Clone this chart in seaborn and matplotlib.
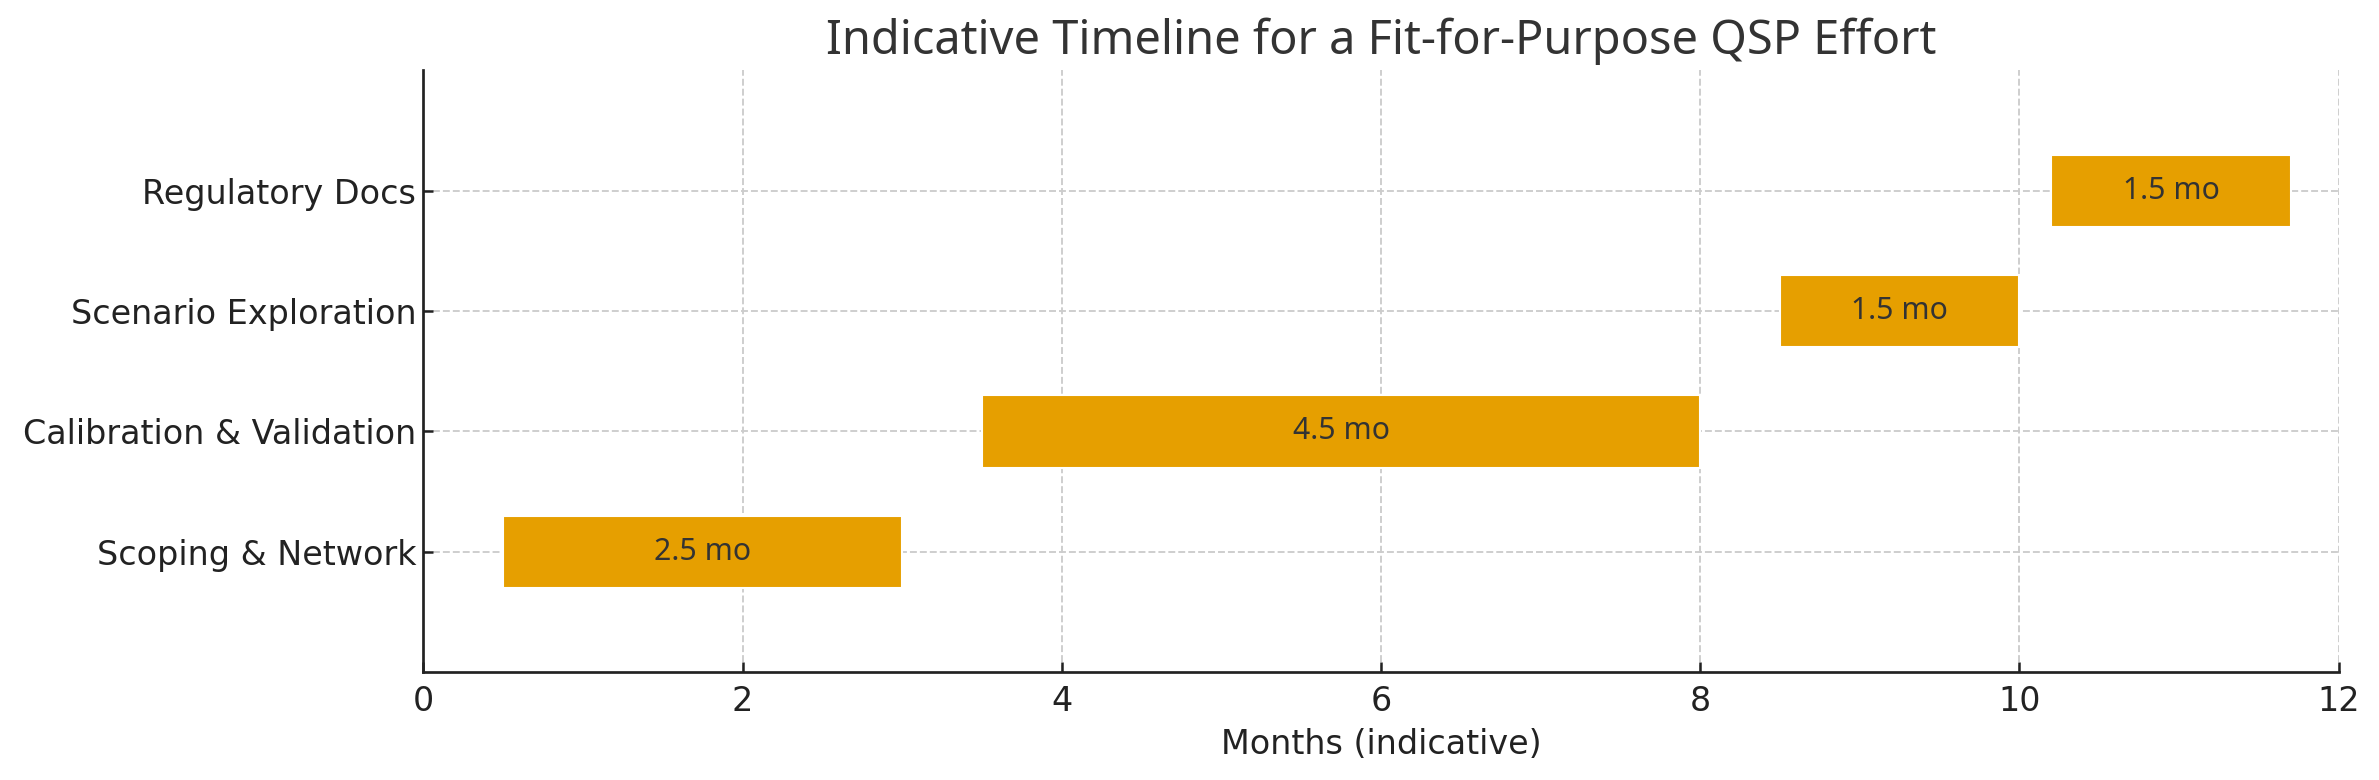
import numpy as np
import matplotlib.pyplot as plt
import seaborn as sns

tasks = ['Scoping & Network', 'Calibration & Validation', 'Scenario Exploration', 'Regulatory Docs']
starts = [0.5, 3.5, 8.5, 10.2]
durations = [2.5, 4.5, 1.5, 1.5]

sns.set_theme(style='whitegrid')
plt.rcParams['font.family'] = ['DejaVu Sans']

fig, ax = plt.subplots(figsize=(2379 / 150, 780 / 150), dpi=150)
fig.subplots_adjust(left=0.178, right=0.983, top=0.910, bottom=0.138)

pos = np.arange(len(tasks))
ax.barh(pos, durations, left=starts, height=0.6, color='#E69F00', zorder=3)

for p, s, d in zip(pos, starts, durations):
    ax.text(s + d / 2, p, f'{d} mo', ha='center', va='center', fontsize=14.5,
            color='#333333', family=['Noto Sans', 'DejaVu Sans'], zorder=4)

ax.set_yticks(pos)
ax.set_yticklabels(tasks)
ax.set_ylim(-1, 4)
ax.set_xlim(0, 12)
ax.set_xticks(range(0, 13, 2))

ax.grid(True, linestyle='--', color='#cccccc', linewidth=0.9)
ax.set_axisbelow(True)
sns.despine(ax=ax)
for side in ['left', 'bottom']:
    ax.spines[side].set_color('#222222')
    ax.spines[side].set_linewidth(1.3)
ax.tick_params(axis='both', direction='in', length=5, width=1.2, colors='#222222', labelsize=16, left=True, bottom=True)
ax.tick_params(axis='x', pad=6)

ax.set_xlabel('Months (indicative)', fontsize=16, color='#222222', labelpad=5)
ax.set_title('Indicative Timeline for a Fit-for-Purpose QSP Effort', fontsize=22.5,
             color='#333333', family=['Noto Sans', 'DejaVu Sans'], pad=8)

plt.savefig('out.png', dpi=150)
